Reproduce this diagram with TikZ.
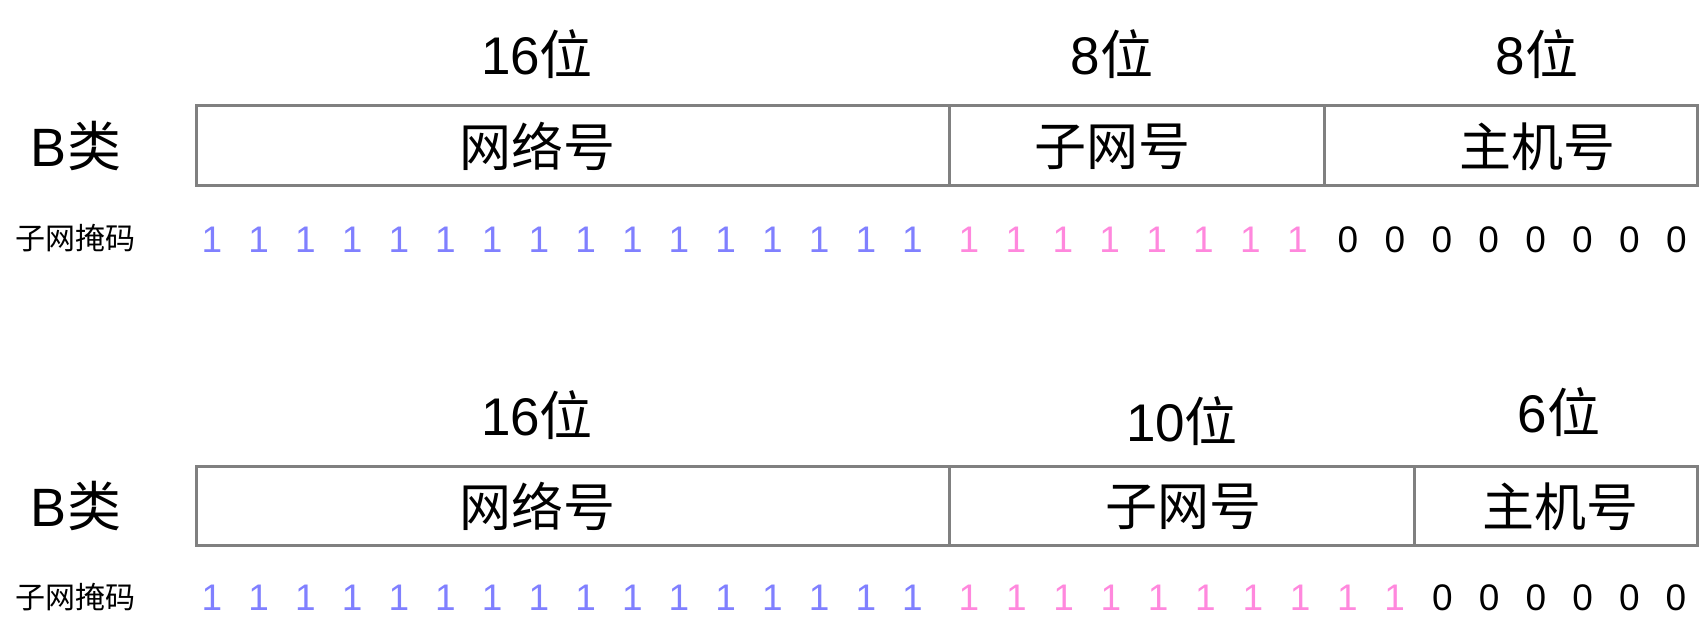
\documentclass[tikz,border=0pt]{standalone}
\usepackage{fontspec}
\setmainfont{Liberation Sans}
\newfontfamily\cjk{Noto Sans CJK SC}
\definecolor{boxgray}{RGB}{128,128,128}
\definecolor{maskblue}{RGB}{128,128,255}
\definecolor{maskpink}{RGB}{255,136,221}
\begin{document}
\begin{tikzpicture}[x=1pt,y=-1pt,
  bits/.style={font=\fontsize{53}{58}\selectfont, inner sep=0pt, anchor=center},
  fieldtext/.style={font=\fontsize{52}{58}\selectfont\cjk, inner sep=0pt, anchor=center},
  cls/.style={font=\fontsize{54}{58}\selectfont, inner sep=0pt, anchor=center},
  masklbl/.style={font=\fontsize{30}{34}\selectfont\cjk, inner sep=0pt, anchor=center},
  field/.style={draw=boxgray, line width=2.6pt, inner sep=0pt},
  dig/.style={font=\fontsize{37}{40}\selectfont, inner sep=0pt, anchor=center},
  one/.style={dig, text=maskblue},
  sub/.style={dig, text=maskpink},
  zero/.style={dig, text=black}]
\useasboundingbox (0,0) rectangle (1701,636);

% ---------- upper diagram ----------
\node[bits] (t16a) at (537,54) {16{\cjk 位}};
\node[bits] (t8a)  at (1112,54) {8{\cjk 位}};
\node[bits] (t8b)  at (1537,54) {8{\cjk 位}};
\node[field, minimum width=753pt, minimum height=80pt] (neta) at (572.7,145.4) {};
\node[field, minimum width=375.3pt, minimum height=80pt] (suba) at (1136.85,145.4) {};
\node[field, minimum width=373.2pt, minimum height=80pt] (hosta) at (1511.1,145.4) {};
\node[fieldtext] (lneta) at (537,146.5) {网络号};
\node[fieldtext] (lsuba) at (1112,146.5) {子网号};
\node[fieldtext] (lhosta) at (1537,146.5) {主机号};
\node[cls] (clsa) at (76,146) {B{\cjk 类}};
\node[masklbl] (mska) at (76,238.5) {子网掩码};
\foreach \i in {0,...,15} \node[one] (ua\i) at (212+46.7*\i,239.5) {1};
\foreach \i in {0,...,7} \node[sub] (pa\i) at (969+46.9*\i,239.5) {1};
\foreach \i in {0,...,7} \node[zero] (za\i) at (1348+46.9*\i,239.5) {0};

% ---------- lower diagram ----------
\node[bits] (t16b) at (537,415.5) {16{\cjk 位}};
\node[bits] (t10b) at (1182,421) {10{\cjk 位}};
\node[bits] (t6b)  at (1559,412) {6{\cjk 位}};
\node[field, minimum width=753pt, minimum height=79pt] (netb) at (572.7,506) {};
\node[field, minimum width=465.6pt, minimum height=79pt] (subb) at (1181.8,506) {};
\node[field, minimum width=283.1pt, minimum height=79pt] (hostb) at (1556.15,506) {};
\node[fieldtext] (lnetb) at (537,506.6) {网络号};
\node[fieldtext] (lsubb) at (1183,506.6) {子网号};
\node[fieldtext] (lhostb) at (1560,506.6) {主机号};
\node[cls] (clsb) at (76,506.5) {B{\cjk 类}};
\node[masklbl] (mskb) at (76,597) {子网掩码};
\foreach \i in {0,...,15} \node[one] (ub\i) at (212+46.7*\i,597.5) {1};
\foreach \i in {0,...,9} \node[sub] (pb\i) at (969+47.3*\i,597.5) {1};
\foreach \i in {0,...,5} \node[zero] (zb\i) at (1442.5+46.7*\i,597.5) {0};
\end{tikzpicture}
\end{document}
